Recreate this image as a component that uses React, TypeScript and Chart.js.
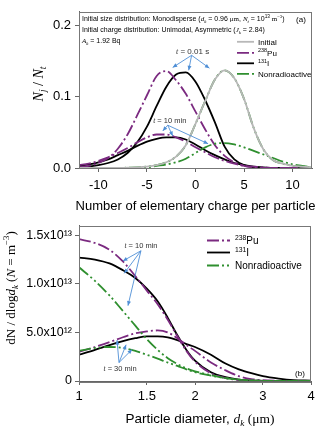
import React, { useEffect, useRef } from "react";
import { Chart, registerables } from "chart.js";
Chart.register(...registerables);

// ---------- DATA: panel (a) ----------
const charges = [-12, -11, -10, -9, -8, -7, -6, -5, -4, -3, -2, -1, 0, 1, 2, 3, 4, 5, 6, 7, 8, 9, 10, 11, 12];
const initialFrac = [0, 0, 0, 0, 0, 0.0005, 0.001, 0.002, 0.004, 0.008, 0.016, 0.032, 0.062, 0.094, 0.124, 0.137, 0.126, 0.097, 0.056, 0.026, 0.011, 0.006, 0.003, 0.002, 0.001];
const pu001 = [0.001, 0.003, 0.007, 0.014, 0.027, 0.047, 0.074, 0.102, 0.129, 0.136, 0.123, 0.104, 0.079, 0.054, 0.032, 0.017, 0.008, 0.003, 0.001, 0, 0, 0, 0, 0, 0];
const i001 = [0.001, 0.002, 0.004, 0.007, 0.012, 0.021, 0.036, 0.058, 0.087, 0.114, 0.131, 0.134, 0.121, 0.095, 0.064, 0.03, 0.012, 0.004, 0.001, 0, 0, 0, 0, 0, 0];
const non001 = [0, 0, 0, 0, 0, 0.0005, 0.001, 0.002, 0.004, 0.008, 0.016, 0.032, 0.062, 0.094, 0.124, 0.137, 0.126, 0.097, 0.056, 0.026, 0.011, 0.006, 0.003, 0.002, 0.001];
const pu10 = [0.004, 0.006, 0.01, 0.015, 0.021, 0.028, 0.036, 0.043, 0.047, 0.047, 0.043, 0.037, 0.029, 0.022, 0.015, 0.01, 0.006, 0.003, 0.002, 0.001, 0, 0, 0, 0, 0];
const i10 = [0.003, 0.005, 0.008, 0.012, 0.018, 0.024, 0.031, 0.037, 0.041, 0.043, 0.043, 0.04, 0.033, 0.025, 0.018, 0.012, 0.007, 0.004, 0.002, 0.001, 0, 0, 0, 0, 0];
const non10 = [0, 0, 0, 0, 0, 0, 0, 0.001, 0.003, 0.005, 0.008, 0.013, 0.021, 0.029, 0.034, 0.035, 0.033, 0.029, 0.024, 0.019, 0.014, 0.009, 0.005, 0.003, 0.001];
const topXTicks = [-10, -5, 0, 5, 10];
const topYTicks = [0, 0.1, 0.2];

// ---------- DATA: panel (b) ----------
const diameters = [1, 1.1, 1.2, 1.3, 1.4, 1.5, 1.6, 1.7, 1.8, 1.9, 2.0, 2.2, 2.4, 2.6, 2.8, 3.0, 3.3, 3.6, 4.0];
const pu10b = [1.46e13, 1.42e13, 1.35e13, 1.23e13, 1.08e13, 0.93e13, 0.79e13, 0.63e13, 0.46e13, 0.31e13, 0.2e13, 0.08e13, 0.03e13, 0.01e13, 0.004e13, 0.001e13, 0, 0, 0];
const i10b = [1.27e13, 1.25e13, 1.21e13, 1.14e13, 1.06e13, 0.95e13, 0.82e13, 0.65e13, 0.47e13, 0.32e13, 0.21e13, 0.09e13, 0.04e13, 0.015e13, 0.006e13, 0.002e13, 0, 0, 0];
const non10b = [1.17e13, 1.03e13, 0.88e13, 0.72e13, 0.57e13, 0.43e13, 0.32e13, 0.235e13, 0.175e13, 0.13e13, 0.1e13, 0.06e13, 0.03e13, 0.015e13, 0.006e13, 0.002e13, 0, 0, 0];
const pu30b = [0.3e13, 0.35e13, 0.4e13, 0.45e13, 0.49e13, 0.51e13, 0.52e13, 0.5e13, 0.44e13, 0.37e13, 0.31e13, 0.19e13, 0.11e13, 0.05e13, 0.02e13, 0.008e13, 0.002e13, 0, 0];
const i30b = [0.27e13, 0.32e13, 0.37e13, 0.41e13, 0.44e13, 0.46e13, 0.46e13, 0.45e13, 0.42e13, 0.38e13, 0.35e13, 0.27e13, 0.18e13, 0.12e13, 0.08e13, 0.05e13, 0.025e13, 0.01e13, 0.004e13];
const non30b = [0.31e13, 0.34e13, 0.35e13, 0.34e13, 0.31e13, 0.27e13, 0.23e13, 0.19e13, 0.155e13, 0.12e13, 0.09e13, 0.055e13, 0.03e13, 0.014e13, 0.006e13, 0.002e13, 0, 0, 0];
const botXTicks = [1, 1.5, 2, 3, 4];
const botYTicks = [0, 5e12, 1e13, 1.5e13];

// ---------- styles ----------
const SANS = '"Liberation Sans", Arial, sans-serif';
const SERIF = '"Liberation Serif", "Times New Roman", serif';
const PURPLE = "#7b2a80";
const GREEN = "#2f8f2f";
const BLACK = "#000000";
const GREY = "#b8b8b8";
const ARROW = "#4f8fd6";
const PU_DASH = [12, 3, 2, 3];
const NON_DASH = [12, 3, 2, 3, 2, 3];

type Seg = { t: string; i?: boolean; s?: boolean; sub?: boolean; sup?: boolean };

function segFont(g: Seg, size: number) {
  const sz = g.sub || g.sup ? size * 0.68 : size;
  return `${g.i ? "italic " : ""}${sz}px ${g.s ? SERIF : SANS}`;
}
function measure(ctx: CanvasRenderingContext2D, segs: Seg[], size: number) {
  let w = 0;
  for (const g of segs) {
    ctx.font = segFont(g, size);
    w += ctx.measureText(g.t).width;
  }
  return w;
}
function drawRich(ctx: CanvasRenderingContext2D, segs: Seg[], x: number, y: number, size: number, align: string, color = "#000") {
  const w = measure(ctx, segs, size);
  let cx = align === "center" ? x - w / 2 : align === "right" ? x - w : x;
  ctx.save();
  ctx.fillStyle = color;
  ctx.textAlign = "left";
  ctx.textBaseline = "alphabetic";
  const base = y + size * 0.35;
  for (const g of segs) {
    ctx.font = segFont(g, size);
    const dy = g.sub ? size * 0.25 : g.sup ? -size * 0.4 : 0;
    ctx.fillText(g.t, cx, base + dy);
    cx += ctx.measureText(g.t).width;
  }
  ctx.restore();
}
function drawRotated(ctx: CanvasRenderingContext2D, segs: Seg[], x: number, y: number, size: number) {
  ctx.save();
  ctx.translate(x, y);
  ctx.rotate(-Math.PI / 2);
  drawRich(ctx, segs, 0, 0, size, "center");
  ctx.restore();
}
function arrow(ctx: CanvasRenderingContext2D, x1: number, y1: number, x2: number, y2: number) {
  ctx.save();
  ctx.strokeStyle = ARROW;
  ctx.fillStyle = ARROW;
  ctx.lineWidth = 0.9;
  ctx.setLineDash([]);
  ctx.beginPath();
  ctx.moveTo(x1, y1);
  ctx.lineTo(x2, y2);
  ctx.stroke();
  const a = Math.atan2(y2 - y1, x2 - x1);
  const L = 4.5, W = 2;
  ctx.beginPath();
  ctx.moveTo(x2, y2);
  ctx.lineTo(x2 - L * Math.cos(a) + W * Math.sin(a), y2 - L * Math.sin(a) - W * Math.cos(a));
  ctx.lineTo(x2 - L * Math.cos(a) - W * Math.sin(a), y2 - L * Math.sin(a) + W * Math.cos(a));
  ctx.closePath();
  ctx.fill();
  ctx.restore();
}
function legendLine(ctx: CanvasRenderingContext2D, x1: number, x2: number, y: number, color: string, dash: number[]) {
  ctx.save();
  ctx.strokeStyle = color;
  ctx.lineWidth = 1.8;
  ctx.setLineDash(dash);
  ctx.beginPath();
  ctx.moveTo(x1, y);
  ctx.lineTo(x2, y);
  ctx.stroke();
  ctx.restore();
}
function box(ctx: CanvasRenderingContext2D, a: any) {
  ctx.save();
  ctx.strokeStyle = "#777";
  ctx.lineWidth = 1;
  ctx.setLineDash([]);
  ctx.strokeRect(Math.round(a.left) + 0.5, Math.round(a.top) + 0.5, Math.round(a.right - a.left) - 1, Math.round(a.bottom - a.top));
  ctx.restore();
}

const t001Label = { x: -0.3, y: 0.164 };
const t001Origin = { x: -0.4, y: 0.158 };
const t001Heads = [{ x: -2.35, y: 0.141 }, { x: -0.7, y: 0.137 }, { x: 1.43, y: 0.14 }];
const t10Label = { x: -2.65, y: 0.0667 };
const t10Origin = { x: -2.86, y: 0.06 };
const t10Heads = [{ x: -3.37, y: 0.052 }, { x: -2.35, y: 0.045 }, { x: 1.3, y: 0.034 }];
const b10Label = { x: 1.448, y: 1.392e13 };
const b10Origin = { x: 1.448, y: 1.34e13 };
const b10Heads = [{ x: 1.3, y: 1.235e13 }, { x: 1.31, y: 1.108e13 }, { x: 1.34, y: 0.775e13 }];
const b30Label = { x: 1.278, y: 0.127e13 };
const b30Origin = { x: 1.27, y: 0.19e13 };
const b30Heads = [{ x: 1.255, y: 0.42e13 }, { x: 1.325, y: 0.373e13 }, { x: 1.373, y: 0.324e13 }];

const supMap: Record<string, string> = { "0": "⁰", "1": "¹", "2": "²", "3": "³", "4": "⁴", "5": "⁵", "6": "⁶", "7": "⁷", "8": "⁸", "9": "⁹" };

function ds(label: string, xs: number[], ys: number[], color: string, dash: number[], width = 1.8) {
  return {
    label,
    data: xs.map((x, k) => ({ x, y: ys[k] })),
    borderColor: color,
    backgroundColor: color,
    borderWidth: width,
    borderDash: dash,
    pointRadius: 0,
    fill: false,
    cubicInterpolationMode: "monotone" as const,
  };
}

const tickFont = (size: number) => ({ family: SANS, size });

export default function App() {
  const topRef = useRef<HTMLCanvasElement>(null);
  const botRef = useRef<HTMLCanvasElement>(null);

  useEffect(() => {
    const topPlugin = {
      id: "topAnn",
      afterDraw(chart: any) {
        const ctx = chart.ctx as CanvasRenderingContext2D;
        const a = chart.chartArea;
        const xs = chart.scales.x, ys = chart.scales.y;
        const px = (p: { x: number; y: number }) => [xs.getPixelForValue(p.x), ys.getPixelForValue(p.y)];
        box(ctx, a);
        drawRich(ctx, [
          { t: "Initial size distribution: Monodisperse (" },
          { t: "d", i: true, s: true }, { t: "k", i: true, s: true, sub: true },
          { t: " = 0.96 " }, { t: "μm", s: true }, { t: ", " },
          { t: "N", i: true, s: true }, { t: "t", i: true, s: true, sub: true },
          { t: " = 10" }, { t: "13", sup: true }, { t: " m", s: true }, { t: "−3", s: true, sup: true }, { t: ")" },
        ], a.left + 3, a.top + 7, 7, "left");
        drawRich(ctx, [
          { t: "Initial charge distribution: Unimodal, Asymmetric (" },
          { t: "J", i: true, s: true }, { t: "k", i: true, s: true, sub: true }, { t: " = 2.84)" },
        ], a.left + 3, a.top + 18, 7, "left");
        drawRich(ctx, [
          { t: "A", i: true, s: true }, { t: "k", i: true, s: true, sub: true }, { t: " = 1.92 Bq" },
        ], a.left + 3, a.top + 29, 7, "left");
        drawRich(ctx, [{ t: "(a)" }], a.right - 11, a.top + 7, 8, "center");
        const lx1 = a.left + 158, lx2 = a.left + 175, tx = a.left + 179;
        const rows = [a.top + 30, a.top + 41, a.top + 51.5, a.top + 62];
        legendLine(ctx, lx1, lx2, rows[0], GREY, []);
        legendLine(ctx, lx1, lx2, rows[1], PURPLE, PU_DASH);
        legendLine(ctx, lx1, lx2, rows[2], BLACK, []);
        legendLine(ctx, lx1, lx2, rows[3], GREEN, NON_DASH);
        drawRich(ctx, [{ t: "Initial" }], tx, rows[0], 8, "left");
        drawRich(ctx, [{ t: "238", sup: true }, { t: "Pu" }], tx, rows[1], 8, "left");
        drawRich(ctx, [{ t: "131", sup: true }, { t: "I" }], tx, rows[2], 8, "left");
        drawRich(ctx, [{ t: "Nonradioactive" }], tx, rows[3], 8, "left");
        const [l1x, l1y] = px(t001Label);
        drawRich(ctx, [{ t: "t", i: true, s: true }, { t: " = 0.01 s" }], l1x, l1y, 8, "center", "#333");
        const [o1x, o1y] = px(t001Origin);
        for (const h of t001Heads) { const [hx, hy] = px(h); arrow(ctx, o1x, o1y, hx, hy); }
        const [l2x, l2y] = px(t10Label);
        drawRich(ctx, [{ t: "t", i: true, s: true }, { t: " = 10 min" }], l2x, l2y, 7.5, "center", "#333");
        const [o2x, o2y] = px(t10Origin);
        for (const h of t10Heads) { const [hx, hy] = px(h); arrow(ctx, o2x, o2y, hx, hy); }
        drawRich(ctx, [{ t: "Number of elementary charge per particle" }], (a.left + a.right) / 2, 205, 13, "center");
        drawRotated(ctx, [
          { t: "N", i: true, s: true }, { t: "j", i: true, s: true, sub: true }, { t: " / ", s: true },
          { t: "N", i: true, s: true }, { t: "t", i: true, s: true, sub: true },
        ], 38, 84, 14);
      },
    };

    const botPlugin = {
      id: "botAnn",
      afterDraw(chart: any) {
        const ctx = chart.ctx as CanvasRenderingContext2D;
        const a = chart.chartArea;
        const xs = chart.scales.x, ys = chart.scales.y;
        const px = (p: { x: number; y: number }) => [xs.getPixelForValue(p.x), ys.getPixelForValue(p.y)];
        box(ctx, a);
        const lx1 = a.left + 128, lx2 = a.left + 151, tx = a.left + 156;
        const rows = [a.top + 15, a.top + 27, a.top + 40];
        legendLine(ctx, lx1, lx2, rows[0], PURPLE, PU_DASH);
        legendLine(ctx, lx1, lx2, rows[1], BLACK, []);
        legendLine(ctx, lx1, lx2, rows[2], GREEN, NON_DASH);
        drawRich(ctx, [{ t: "238", sup: true }, { t: "Pu" }], tx, rows[0], 10, "left");
        drawRich(ctx, [{ t: "131", sup: true }, { t: "I" }], tx, rows[1], 10, "left");
        drawRich(ctx, [{ t: "Nonradioactive" }], tx, rows[2], 10, "left");
        drawRich(ctx, [{ t: "(b)" }], a.right - 11, a.bottom - 8, 8, "center");
        const [l1x, l1y] = px(b10Label);
        drawRich(ctx, [{ t: "t", i: true, s: true }, { t: " = 10 min" }], l1x, l1y, 7.5, "center", "#333");
        const [o1x, o1y] = px(b10Origin);
        for (const h of b10Heads) { const [hx, hy] = px(h); arrow(ctx, o1x, o1y, hx, hy); }
        const [l2x, l2y] = px(b30Label);
        drawRich(ctx, [{ t: "t", i: true, s: true }, { t: " = 30 min" }], l2x, l2y, 7.5, "center", "#333");
        const [o2x, o2y] = px(b30Origin);
        for (const h of b30Heads) { const [hx, hy] = px(h); arrow(ctx, o2x, o2y, hx, hy); }
        drawRich(ctx, [
          { t: "Particle diameter, " }, { t: "d", i: true, s: true }, { t: "k", i: true, s: true, sub: true },
          { t: " (μm)", s: true },
        ], 200, 203, 13.5, "center");
        drawRotated(ctx, [
          { t: "dN / dlog", s: true }, { t: "d", i: true, s: true }, { t: "k", i: true, s: true, sub: true },
          { t: " (", s: true }, { t: "N", i: true, s: true }, { t: " = m", s: true }, { t: "−3", s: true, sup: true },
          { t: ")", s: true },
        ], 10, 73, 13);
      },
    };

    const axisGrid = { display: true, drawOnChartArea: false, drawTicks: true, tickLength: 4, color: "#666" };

    const top = new Chart(topRef.current!, {
      type: "line",
      data: {
        datasets: [
          ds("Initial", charges, initialFrac, GREY, []),
          ds("Nonradioactive 0.01 s", charges, non001, GREEN, NON_DASH),
          ds("Nonradioactive 10 min", charges, non10, GREEN, NON_DASH),
          ds("238Pu 0.01 s", charges, pu001, PURPLE, PU_DASH),
          ds("238Pu 10 min", charges, pu10, PURPLE, PU_DASH),
          ds("131I 0.01 s", charges, i001, BLACK, []),
          ds("131I 10 min", charges, i10, BLACK, []),
        ] as any,
      },
      options: {
        responsive: false,
        animation: false,
        maintainAspectRatio: false,
        layout: { padding: { top: 4, right: 8, left: 0, bottom: 0 } },
        plugins: { legend: { display: false }, tooltip: { enabled: false } },
        scales: {
          x: {
            type: "linear", min: -12, max: 12,
            afterBuildTicks: (s: any) => { s.ticks = topXTicks.map((v) => ({ value: v })); },
            afterFit: (s: any) => { s.height = 47; },
            ticks: { font: tickFont(13), color: "#000", padding: 6, maxRotation: 0, autoSkip: false, callback: (v: any) => String(v) },
            grid: axisGrid as any,
            border: { display: true, color: "#666" },
          },
          y: {
            type: "linear", min: 0, max: 0.219,
            afterBuildTicks: (s: any) => { s.ticks = topYTicks.map((v) => ({ value: v })); },
            afterFit: (s: any) => { s.width = 79; },
            ticks: { font: tickFont(13), color: "#000", padding: 4, callback: (v: any) => Number(v).toFixed(1) },
            grid: axisGrid as any,
            border: { display: true, color: "#666" },
          },
        },
      } as any,
      plugins: [topPlugin],
    });

    const bot = new Chart(botRef.current!, {
      type: "line",
      data: {
        datasets: [
          ds("Nonradioactive 10 min", diameters, non10b, GREEN, NON_DASH),
          ds("Nonradioactive 30 min", diameters, non30b, GREEN, NON_DASH),
          ds("238Pu 10 min", diameters, pu10b, PURPLE, PU_DASH),
          ds("238Pu 30 min", diameters, pu30b, PURPLE, PU_DASH),
          ds("131I 10 min", diameters, i10b, BLACK, []),
          ds("131I 30 min", diameters, i30b, BLACK, []),
        ] as any,
      },
      options: {
        responsive: false,
        animation: false,
        maintainAspectRatio: false,
        layout: { padding: { top: 3, right: 9, left: 0, bottom: 0 } },
        plugins: { legend: { display: false }, tooltip: { enabled: false } },
        scales: {
          x: {
            type: "logarithmic", min: 1, max: 4,
            afterBuildTicks: (s: any) => { s.ticks = botXTicks.map((v) => ({ value: v })); },
            afterFit: (s: any) => { s.height = 48; },
            ticks: { font: tickFont(13), color: "#000", padding: 4, maxRotation: 0, autoSkip: false, callback: (v: any) => String(v) },
            grid: axisGrid as any,
            border: { display: true, color: "#666" },
          },
          y: {
            type: "linear", min: 0, max: 1.6e13,
            afterBuildTicks: (s: any) => { s.ticks = botYTicks.map((v) => ({ value: v })); },
            afterFit: (s: any) => { s.width = 79; },
            ticks: {
              font: tickFont(12.5), color: "#000", padding: 3,
              callback: (v: any) => {
                const n = Number(v);
                if (n === 0) return "0";
                const e = Math.floor(Math.log10(n) + 1e-9);
                const m = n / Math.pow(10, e);
                return `${m.toFixed(1)}x10${String(e).split("").map((c) => supMap[c]).join("")}`;
              },
            },
            grid: axisGrid as any,
            border: { display: true, color: "#666" },
          },
        },
      } as any,
      plugins: [botPlugin],
    });

    return () => {
      top.destroy();
      bot.destroy();
    };
  }, []);

  return (
    <div style={{ position: "absolute", left: 0, top: 0, width: 320, height: 429, background: "#fff" }}>
      <canvas ref={topRef} width={320} height={215} style={{ display: "block" }} />
      <canvas ref={botRef} width={320} height={214} style={{ display: "block" }} />
    </div>
  );
}
